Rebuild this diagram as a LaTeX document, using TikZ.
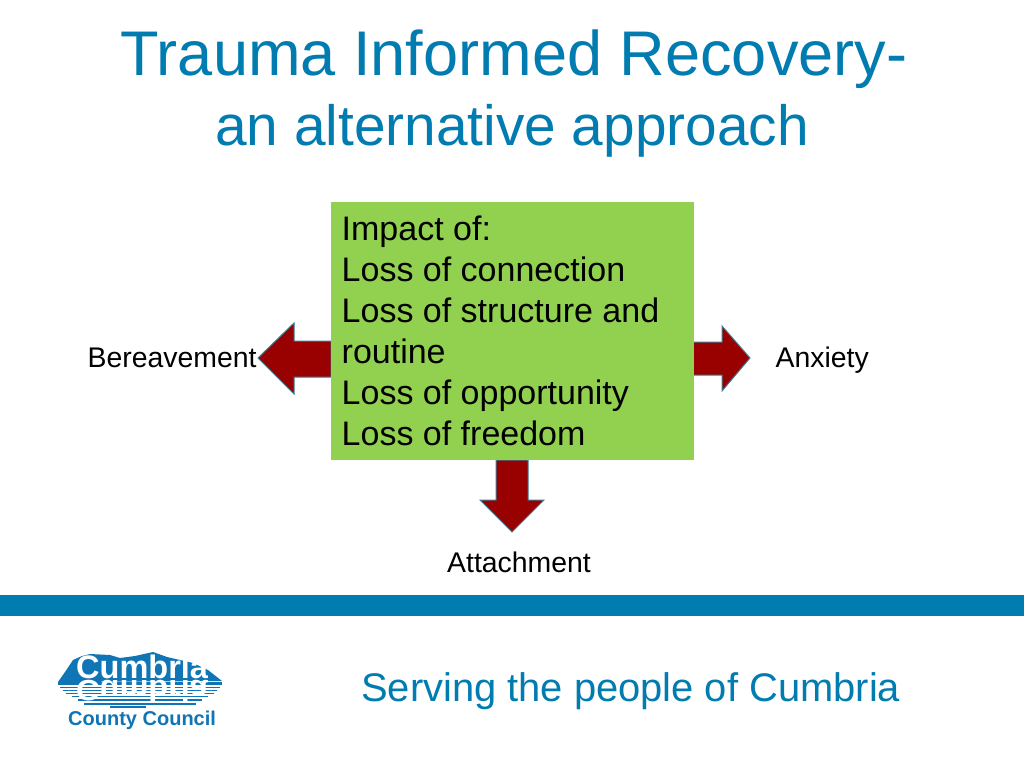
\documentclass[tikz,border=0pt]{standalone}
\usepackage{fontspec}
\setmainfont{Liberation Sans}
\definecolor{brand}{HTML}{007CB0}
\definecolor{boxgreen}{HTML}{92D050}
\definecolor{arrowred}{HTML}{990000}
\definecolor{arrowedge}{HTML}{3F7F96}
\definecolor{logoblue}{HTML}{0F75B5}
\newcommand{\fs}[1]{\fontsize{#1}{#1}\selectfont}
\tikzset{
  blockarrow/.style={fill=arrowred,draw=arrowedge,line width=1pt,line join=miter},
  plainlabel/.style={inner sep=0pt,anchor=base west,text=black},
  brandtext/.style={inner sep=0pt,anchor=base west,text=brand},
}
\begin{document}
\begin{tikzpicture}[x=1pt,y=-1pt]
\useasboundingbox (0,0) rectangle (1024,768);
\fill[white] (0,0) rectangle (1024,768);
\node[brandtext,font=\fs{63.1}] (title) at (120.5,75) {Trauma Informed Recovery-};
\node[brandtext,font=\fs{56.8}] (subtitle) at (215,145) {an alternative approach};
% arrows
\draw[blockarrow] (331,341) -- (294,341) -- (294,323) -- (258,358) -- (294,394) -- (294,377) -- (331,377) -- cycle;
\draw[blockarrow] (693,342) -- (722,342) -- (722,326) -- (750,358) -- (722,391) -- (722,375) -- (693,375) -- cycle;
\draw[blockarrow] (496,460) -- (496,500) -- (480,500) -- (512,532) -- (544,500) -- (528,500) -- (528,460) -- cycle;
% box
\node[fill=boxgreen,minimum width=363pt,minimum height=258pt,inner sep=0pt,anchor=north west] (impact) at (331,202) {};
\foreach \t [count=\i] in {Impact of:,Loss of connection,Loss of structure and,routine,Loss of opportunity,Loss of freedom}{
  \node[plainlabel,font=\fs{34}] (line\i) at (341.5,{240.5+(\i-1)*40.9}) {\t};
}
\node[plainlabel,font=\fs{28.4}] (bereave) at (87.5,367) {Bereavement};
\node[plainlabel,font=\fs{28.4}] (anxiety) at (775.5,367) {Anxiety};
\node[plainlabel,font=\fs{28.4}] (attach) at (447,572) {Attachment};
% band
\fill[brand] (0,595) rectangle (1024,616);
\node[brandtext,font=\fs{39.9}] (serving) at (361,701) {Serving the people of Cumbria};
% logo
\fill[logoblue] (58,682) -- (65,672) -- (73,660) -- (82,656) -- (90,654) -- (110,655) -- (120,658) -- (135,656) -- (153,652) -- (167,657) -- (180,660) -- (193,663) -- (208,670) -- (222,681) -- cycle;
\foreach \y/\a/\b/\h in {682/58/222/3,686.5/60/220/1.6,689.5/63/217/1.6,692.5/66/214/1.6,695.5/72/208/1.6,699/78/202/2,702.5/84/196/2,706/110/146/1.5}{
  \fill[logoblue] (\a,\y) rectangle (\b,\y+\h);
}
\node[inner sep=0pt,anchor=base west,text=white,font=\bfseries\fs{32.5}] (logoname) at (76,678) {Cumbria};
\begin{scope}[shift={(76,680.5)},yscale=-0.9,transform shape]
\node[inner sep=0pt,anchor=base west,text=white,font=\bfseries\fs{32.5}] (logomirror) at (0,0) {Cumbria};
\end{scope}
\node[inner sep=0pt,anchor=base west,text=logoblue,font=\bfseries\fs{20}] (logocouncil) at (68,725) {County Council};
\end{tikzpicture}
\end{document}
